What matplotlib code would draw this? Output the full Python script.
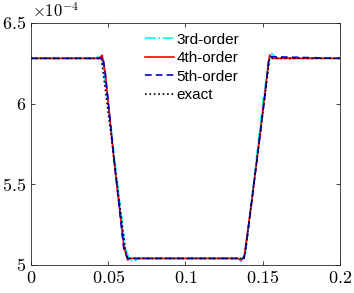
import matplotlib
matplotlib.use("Agg")
import matplotlib.pyplot as plt
from matplotlib.ticker import FuncFormatter
import numpy as np

plt.rcParams['mathtext.fontset'] = 'cm'
plt.rcParams['font.family'] = ['Liberation Sans', 'DejaVu Sans']

# data (y in units of 1e-4)
x_exact = [0.0, 0.0455, 0.0615, 0.0625, 0.1375, 0.1385, 0.1545, 0.2]
y_exact = [6.28, 6.28, 5.06, 5.04, 5.04, 5.06, 6.28, 6.28]

x_3rd = [0.0, 0.0420, 0.0440, 0.0460, 0.0500, 0.0560, 0.0610, 0.0640, 0.0660,
         0.0700, 0.1300, 0.1340, 0.1360, 0.1390, 0.1440, 0.1500, 0.1540, 0.1560,
         0.1590, 0.2]
y_3rd = [6.28, 6.28, 6.30, 6.27, 6.00, 5.50, 5.10, 5.03, 5.02,
         5.04, 5.04, 5.04, 5.02, 5.08, 5.50, 6.00, 6.27, 6.31,
         6.28, 6.28]

x_4th = [0.0, 0.0440, 0.0460, 0.0480, 0.0540, 0.0600, 0.0625, 0.0640, 0.0660,
         0.1340, 0.1360, 0.1380, 0.1430, 0.1490, 0.1525, 0.1545, 0.1565, 0.2]
y_4th = [6.28, 6.28, 6.30, 6.19, 5.62, 5.12, 5.03, 5.04, 5.04,
         5.04, 5.03, 5.05, 5.40, 5.86, 6.15, 6.30, 6.28, 6.28]

x_5th = [0.0, 0.0450, 0.0465, 0.0480, 0.0540, 0.0600, 0.0625, 0.0640,
         0.1360, 0.1380, 0.1400, 0.1460, 0.1520, 0.1540, 0.1555, 0.2]
y_5th = [6.28, 6.28, 6.29, 6.19, 5.63, 5.10, 5.04, 5.04,
         5.04, 5.04, 5.17, 5.63, 6.09, 6.28, 6.29, 6.28]

fig = plt.figure(figsize=(3.54, 2.93), dpi=100)
ax = fig.add_axes([0.088, 0.096, 0.872, 0.826])

scale = 1e-4
ax.plot(x_3rd, np.array(y_3rd) * scale, color='cyan', ls='-.', lw=1.2, label='3rd-order')
ax.plot(x_4th, np.array(y_4th) * scale, color='red', ls='-', lw=1.2, label='4th-order')
ax.plot(x_5th, np.array(y_5th) * scale, color='#0000d0', ls='--', lw=1.2,
        dashes=(4, 2.5), label='5th-order')
ax.plot(x_exact, np.array(y_exact) * scale, color='black', ls=':', lw=1.2, label='exact')

ax.set_xlim(0, 0.2)
ax.set_ylim(5e-4, 6.5e-4)
ax.set_xticks([0, 0.05, 0.1, 0.15, 0.2])
ax.set_yticks(np.array([5, 5.5, 6, 6.5]) * scale)
ax.xaxis.set_major_formatter(FuncFormatter(lambda v, p: '$%g$' % round(v, 4)))
ax.yaxis.set_major_formatter(FuncFormatter(lambda v, p: '$%g$' % round(v / scale, 3)))
ax.tick_params(direction='in', top=True, right=True, labelsize=13, colors='#262626',
               length=3, width=0.6, labelcolor='black')
for s in ax.spines.values():
    s.set_color('#262626')
    s.set_linewidth(0.6)

ax.text(0.003, 1.025, r'$\times10^{-4}$', transform=ax.transAxes, fontsize=12,
        va='baseline', ha='left')

ax.legend(loc='upper left', bbox_to_anchor=(0.37, 0.96), frameon=False, fontsize=11,
          handlelength=1.9, handletextpad=0.15, labelspacing=0.3, borderpad=0,
          borderaxespad=0)

fig.savefig('out.png', dpi=100)
